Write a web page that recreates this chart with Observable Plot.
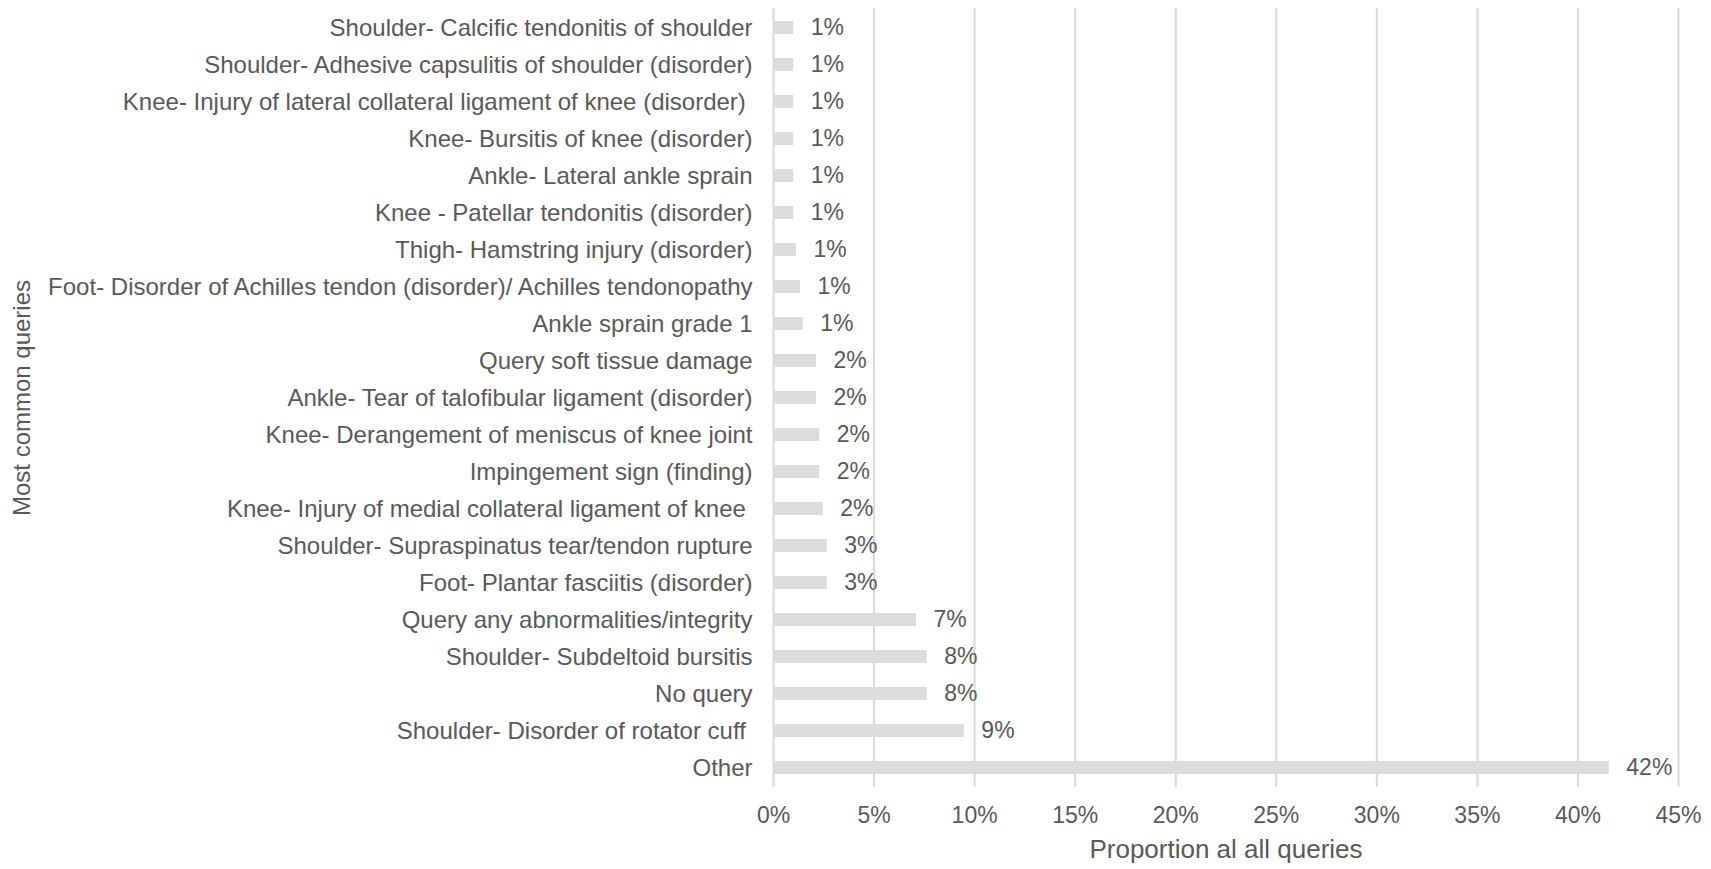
<!DOCTYPE html>
<html>
<head>
<meta charset="utf-8">
<script src="https://cdn.jsdelivr.net/npm/d3@7"></script>
<script src="https://cdn.jsdelivr.net/npm/@observablehq/plot@0.6"></script>
<style>
  html, body { margin: 0; padding: 0; background: #fff; }
  #chart svg { display: block; }
  #chart g[aria-label="x-axis label"] text { font-size: 26px; }
  #chart g[aria-label="y-axis label"] text { font-size: 24px; }
</style>
</head>
<body>
<div id="chart"></div>
<script>
const categories = [
  "Shoulder- Calcific tendonitis of shoulder",
  "Shoulder- Adhesive capsulitis of shoulder (disorder)",
  "Knee- Injury of lateral collateral ligament of knee (disorder) ",
  "Knee- Bursitis of knee (disorder)",
  "Ankle- Lateral ankle sprain",
  "Knee - Patellar tendonitis (disorder)",
  "Thigh- Hamstring injury (disorder)",
  "Foot- Disorder of Achilles tendon (disorder)/ Achilles tendonopathy",
  "Ankle sprain grade 1",
  "Query soft tissue damage",
  "Ankle- Tear of talofibular ligament (disorder)",
  "Knee- Derangement of meniscus of knee joint",
  "Impingement sign (finding)",
  "Knee- Injury of medial collateral ligament of knee ",
  "Shoulder- Supraspinatus tear/tendon rupture",
  "Foot- Plantar fasciitis (disorder)",
  "Query any abnormalities/integrity",
  "Shoulder- Subdeltoid bursitis",
  "No query",
  "Shoulder- Disorder of rotator cuff ",
  "Other"
];
const proportions = [
  0.0101, 0.0101, 0.0101, 0.0101, 0.0101, 0.0101, 0.0114, 0.0134, 0.0148,
  0.0214, 0.0214, 0.0230, 0.0230, 0.0247, 0.0267, 0.0267,
  0.0711, 0.0764, 0.0764, 0.0949, 0.4156
];
const xTicks = [0, 0.05, 0.10, 0.15, 0.20, 0.25, 0.30, 0.35, 0.40, 0.45];
const xLabel = "Proportion al all queries";
const yLabel = "Most common queries";

const data = categories.map((c, i) => ({category: c, value: proportions[i]}));
const pct = d3.format(".0%");
const textColor = "#595959";

const chart = Plot.plot({
  width: 1711,
  height: 869,
  marginLeft: 773,
  marginRight: 33,
  marginTop: 8,
  marginBottom: 82,
  style: {fontFamily: "'Liberation Sans', Arial, sans-serif", fontSize: "23px", color: textColor, background: "#fff"},
  x: {domain: [0, 0.45], ticks: xTicks},
  y: {domain: categories, paddingInner: 0.66, paddingOuter: 0.33},
  marks: [
    Plot.gridX(xTicks, {stroke: "#d9d9d9", strokeWidth: 2, strokeOpacity: 1}),
    Plot.barX(data, {x: "value", y: "category", fill: "#dcdcdc"}),
    Plot.text(data, {x: "value", y: "category", text: d => pct(d.value), textAnchor: "start", dx: 17, fill: textColor, fontSize: 23}),
    Plot.axisX({ticks: xTicks, tickFormat: pct, tickSize: 0, tickPadding: 19, fontSize: 23, fill: textColor,
      label: xLabel, labelAnchor: "center", labelArrow: "none", labelOffset: 70}),
    Plot.axisY({tickSize: 0, tickPadding: 21, fontSize: 24, fill: textColor,
      label: yLabel, labelAnchor: "center", labelArrow: "none", labelOffset: 761})
  ]
});
document.getElementById("chart").appendChild(chart);
</script>
</body>
</html>
